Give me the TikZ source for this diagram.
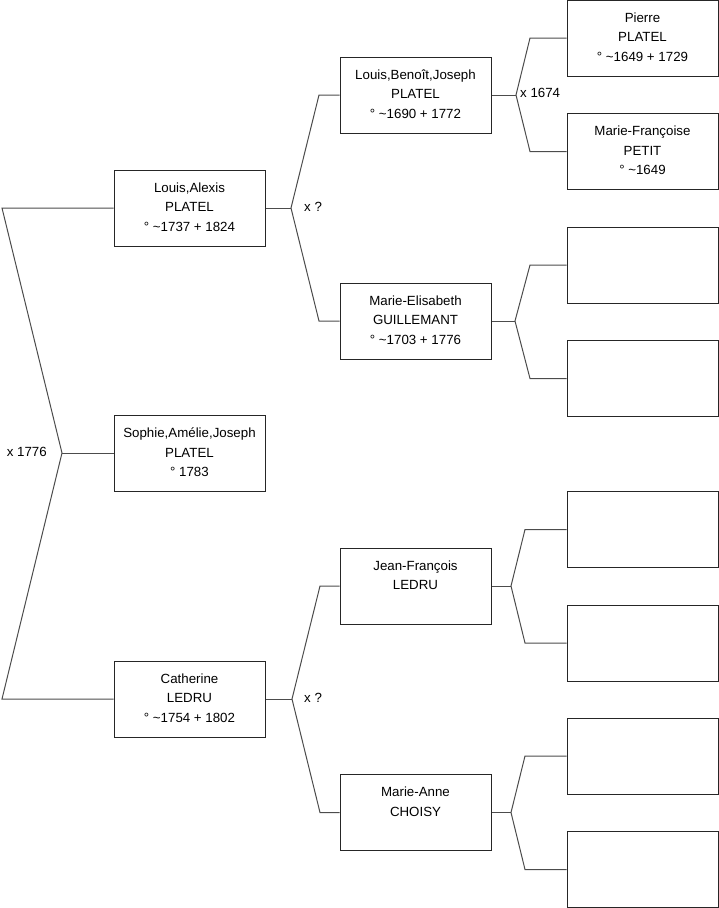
\documentclass[tikz,border=0pt]{standalone}
\usepackage{fontspec}
\setmainfont{Liberation Sans}
\begin{document}
\begin{tikzpicture}[x=1pt,y=-1pt,
  box/.style={draw=black!85,line width=1pt,minimum width=151pt,minimum height=76pt,inner sep=0pt},
  txt/.style={anchor=north,align=center,inner sep=0pt,font=\fontsize{13.3}{19.5}\selectfont},
  conn/.style={draw=black!70,line width=1pt},
  lbl/.style={inner sep=0pt,font=\fontsize{13.3}{14}\selectfont}]
\useasboundingbox (0,0) rectangle (719,908);
% column 1
\node[box] (la) at (189.5,208) {};
\node[box] (so) at (189.5,453) {};
\node[box] (ca) at (189.5,699) {};
% column 2
\node[box] (lb) at (415.5,95) {};
\node[box] (me) at (415.5,321) {};
\node[box] (jf) at (415.5,586) {};
\node[box] (ma) at (415.5,812.5) {};
% column 3
\node[box] (pp) at (642.5,38) {};
\node[box] (mf) at (642.5,151.5) {};
\node[box] (e1) at (642.5,265) {};
\node[box] (e2) at (642.5,378.5) {};
\node[box] (e3) at (642.5,529.5) {};
\node[box] (e4) at (642.5,643) {};
\node[box] (e5) at (642.5,756) {};
\node[box] (e6) at (642.5,869.5) {};
% texts
\node[txt] at ([yshift=-13pt]la.north) {Louis,Alexis\\PLATEL\\° \textasciitilde1737 + 1824};
\node[txt] at ([yshift=-13pt]so.north) {Sophie,Amélie,Joseph\\PLATEL\\° 1783};
\node[txt] at ([yshift=-13pt]ca.north) {Catherine\\LEDRU\\° \textasciitilde1754 + 1802};
\node[txt] at ([yshift=-13pt]lb.north) {Louis,Benoît,Joseph\\PLATEL\\° \textasciitilde1690 + 1772};
\node[txt] at ([yshift=-13pt]me.north) {Marie-Elisabeth\\GUILLEMANT\\° \textasciitilde1703 + 1776};
\node[txt] at ([yshift=-13pt]jf.north) {Jean-François\\LEDRU};
\node[txt] at ([yshift=-13pt]ma.north) {Marie-Anne\\CHOISY};
\node[txt] at ([yshift=-13pt]pp.north) {Pierre\\PLATEL\\° \textasciitilde1649 + 1729};
\node[txt] at ([yshift=-13pt]mf.north) {Marie-Françoise\\PETIT\\° \textasciitilde1649};
% level 1 fork
\coordinate (a1) at (62,453);
\coordinate (b1u) at (2,208);
\coordinate (b1d) at (2,699);
\draw[conn] (la.west) -- (b1u) -- (a1) -- (b1d) -- (ca.west);
\draw[conn] (a1) -- (so.west);
\node[lbl,anchor=east] (m1) at (47,452) {x 1776};
% level 2 fork (Louis,Alexis)
\coordinate (a2) at (291,208);
\coordinate (b2u) at (319,95);
\coordinate (b2d) at (319,321);
\draw[conn] (lb.west) -- (b2u) -- (a2) -- (b2d) -- (me.west);
\draw[conn] (la.east) -- (a2);
\node[lbl,anchor=west] (m2) at (304,207) {x ?};
% level 2 fork (Catherine)
\coordinate (a3) at (292,699);
\coordinate (b3u) at (320,586);
\coordinate (b3d) at (320,812.5);
\draw[conn] (jf.west) -- (b3u) -- (a3) -- (b3d) -- (ma.west);
\draw[conn] (ca.east) -- (a3);
\node[lbl,anchor=west] (m3) at (304,698) {x ?};
% level 3 forks
\coordinate (a4) at (516,95);
\coordinate (b4u) at (530,38);
\coordinate (b4d) at (530,151.5);
\draw[conn] (pp.west) -- (b4u) -- (a4) -- (b4d) -- (mf.west);
\draw[conn] (lb.east) -- (a4);
\node[lbl,anchor=west] (m4) at (520,93) {x 1674};
\coordinate (a5) at (515,321);
\coordinate (b5u) at (530,265);
\coordinate (b5d) at (530,378.5);
\draw[conn] (e1.west) -- (b5u) -- (a5) -- (b5d) -- (e2.west);
\draw[conn] (me.east) -- (a5);
\coordinate (a6) at (511,586);
\coordinate (b6u) at (525,529.5);
\coordinate (b6d) at (525,643);
\draw[conn] (e3.west) -- (b6u) -- (a6) -- (b6d) -- (e4.west);
\draw[conn] (jf.east) -- (a6);
\coordinate (a7) at (511,812.5);
\coordinate (b7u) at (525,756);
\coordinate (b7d) at (525,869.5);
\draw[conn] (e5.west) -- (b7u) -- (a7) -- (b7d) -- (e6.west);
\draw[conn] (ma.east) -- (a7);
\end{tikzpicture}
\end{document}
